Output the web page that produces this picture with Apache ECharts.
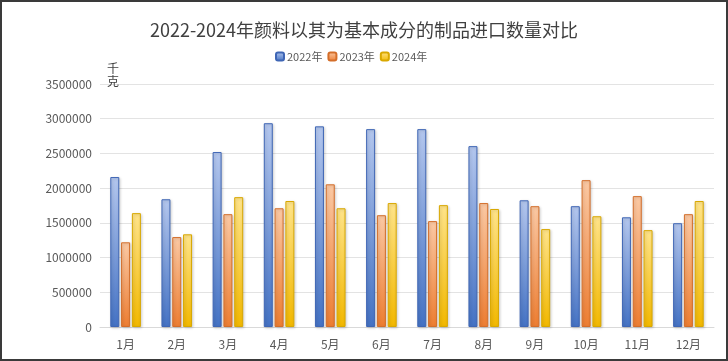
<!DOCTYPE html>
<html><head><meta charset="utf-8">
<script src="https://cdn.jsdelivr.net/npm/echarts@6/dist/echarts.min.js"></script>
<style>html,body{margin:0;padding:0;background:#fff}#c{width:728px;height:361px;box-sizing:border-box;border:2px solid #3a3a3a}</style>
</head><body><div id="c"></div>
<script>
const categories = ['1月','2月','3月','4月','5月','6月','7月','8月','9月','10月','11月','12月'];
const seriesNames = ['2022年','2023年','2024年'];
const v2022 = [2160000,1840000,2520000,2935000,2890000,2850000,2850000,2605000,1825000,1740000,1580000,1495000];
const v2023 = [1220000,1295000,1625000,1710000,2055000,1610000,1525000,1785000,1740000,2115000,1885000,1625000];
const v2024 = [1640000,1335000,1870000,1815000,1710000,1785000,1755000,1700000,1410000,1595000,1395000,1815000];
const yTicks = {min:0,max:3500000,interval:500000};

const styles = [
  {top:'#b4c7ee',bottom:'#4472c4',border:'#3f66b5'},
  {top:'#fbc9a4',bottom:'#ed7d31',border:'#d46e2a'},
  {top:'#ffe48a',bottom:'#f2b800',border:'#d9a800'}
];
const datas = [v2022,v2023,v2024];
const chart = echarts.init(document.getElementById('c'));
const font = '"Microsoft YaHei","Noto Sans CJK SC","Noto Sans",sans-serif';
chart.setOption({
  animation:false,
  textStyle:{fontFamily:font},
  title:{text:'2022-2024年颜料以其为基本成分的制品进口数量对比',left:'center',top:14,
    textStyle:{fontSize:18,fontWeight:'normal',color:'#404040',fontFamily:font}},
  legend:{data:seriesNames,left:268,top:44,itemWidth:8,itemHeight:8,itemGap:5,
    textStyle:{fontSize:11,color:'#595959',fontFamily:font,padding:[0,0,0,-2]}},
  grid:{left:98,right:12,top:82,bottom:32,containLabel:false},
  xAxis:{type:'category',data:categories,
    axisLine:{lineStyle:{color:'#d9d9d9'}},axisTick:{show:false},
    axisLabel:{color:'#595959',fontSize:12,margin:11,fontFamily:font}},
  yAxis:{type:'value',min:yTicks.min,max:yTicks.max,interval:yTicks.interval,
    name:'千\n克',nameLocation:'end',nameGap:-4,
    nameTextStyle:{color:'#404040',fontSize:12,align:'left',padding:[0,0,0,7],lineHeight:13,verticalAlign:'bottom'},
    axisLine:{show:false},axisTick:{show:false},
    splitLine:{lineStyle:{color:'#e3e3e3'}},
    axisLabel:{color:'#595959',fontSize:12,margin:8,fontFamily:font,formatter:v=>String(v)}},
  series: seriesNames.map((n,i)=>({
    name:n,type:'bar',data:datas[i],barWidth:9,barGap:'20%',
    itemStyle:{
      color:{type:'linear',x:0,y:0,x2:0,y2:1,colorStops:[{offset:0,color:styles[i].top},{offset:1,color:styles[i].bottom}]},
      borderColor:styles[i].border,borderWidth:1,
      shadowColor:'rgba(0,0,0,0.18)',shadowBlur:3,shadowOffsetX:1,shadowOffsetY:1
    }
  }))
});
</script></body></html>
